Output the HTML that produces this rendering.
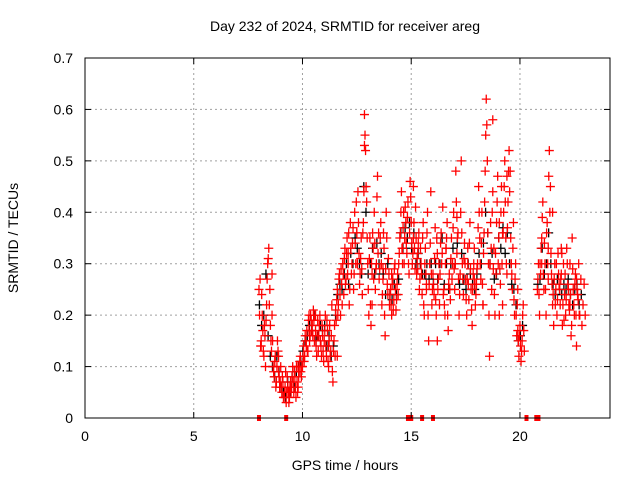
<!DOCTYPE html>
<html><head><meta charset="utf-8"><style>
body{margin:0;background:#fff;}
svg text{font-family:"Liberation Sans",sans-serif;font-size:14px;fill:#000;}
</style></head><body>
<svg id="chart" width="640" height="480" xmlns="http://www.w3.org/2000/svg">
<rect width="640" height="480" fill="#fff"/>
<g id="grid"></g>
<g id="blackpts"></g>
<g id="redpts"></g>
<g id="axes"></g>
<text x="345" y="31" text-anchor="middle">Day 232 of 2024, SRMTID for receiver areg</text>
<text x="345" y="470" text-anchor="middle">GPS time / hours</text>
<text transform="translate(18,238) rotate(-90)" text-anchor="middle">SRMTID / TECUs</text>
</svg>
<script>
const xTicks=[0,5,10,15,20];
const yTicks=[0,0.1,0.2,0.3,0.4,0.5,0.6,0.7];
const yTickLabels=["0","0.1","0.2","0.3","0.4","0.5","0.6","0.7"];
const redSegStarts=[8.0,20.8,8.025,20.825];
const redSegA=[0.25,0.27,0.15,0.2,0.13,0.18,0.1,0.22,0.3,0.33,0.25,0.15,0.2,0.1,0.08,0.12,0.07,0.15,0.09,0.06,
0.1,0.05,0.07,0.04,0.06,0.03,0.08,0.05,0.04,0.07,0.06,0.1,0.05,0.08,0.04,0.07,0.1,0.09,0.12,0.08,
0.1,0.14,0.12,0.15,0.17,0.13,0.2,0.16,0.19,0.18,0.21,0.15,0.17,0.12,0.19,0.16,0.2,0.14,0.18,0.13,
0.15,0.2,0.12,0.17,0.1,0.18,0.13,0.22,0.07,0.15,0.12,0.19,0.25,0.22,0.28,0.2,0.26,0.3,0.24,0.33,
0.27,0.35,0.3,0.22,0.38,0.28,0.34,0.25,0.4,0.3,0.36,0.44,0.32,0.28,0.35,0.24,0.38,0.59,0.52,0.42,
0.3,0.2,0.35,0.18,0.28,0.33,0.4,0.25,0.3,0.47,0.36,0.29,0.38,0.22,0.27,0.33,0.16,0.4,0.26,0.31,
0.22,0.25,0.2,0.27,0.23,0.3,0.21,0.26,0.24,0.32,0.36,0.44,0.3,0.4,0.35,0.38,0.32,0.42,0.28,0.46,
0.38,0.3,0.35,0.33,0.41,0.28,0.32,0.36,0.27,0.3,0.24,0.38,0.2,0.33,0.26,0.4,0.15,0.3,0.44,0.22,
0.28,0.24,0.37,0.2,0.32,0.27,0.22,0.34,0.3,0.41,0.25,0.2,0.33,0.38,0.17,0.28,0.23,0.35,0.3,0.4,
0.25,0.48,0.32,0.36,0.2,0.28,0.5,0.3,0.24,0.34,0.27,0.2,0.3,0.23,0.38,0.25,0.18,0.28,0.33,0.22,
0.26,0.3,0.45,0.35,0.27,0.4,0.22,0.36,0.48,0.62,0.5,0.3,0.12,0.38,0.25,0.44,0.33,0.2,0.28,0.42,
0.3,0.38,0.26,0.45,0.22,0.4,0.5,0.35,0.28,0.42,0.52,0.48,0.3,0.25,0.38,0.2,0.3,0.16,0.25,0.12,
0.18,0.11,0.15,0.22,0.13];
const redSegB=[0.25,0.3,0.2,0.28,
0.35,0.42,0.25,0.3,0.2,0.38,0.33,0.52,0.45,0.28,0.22,0.18,0.3,0.25,0.2,0.32,0.26,0.22,0.28,0.18,
0.3,0.24,0.2,0.33,0.26,0.22,0.3,0.16,0.35,0.25,0.2,0.28,0.14,0.24,0.3,0.2,0.27,0.18,0.22,0.26,0.2];
const redSegC=[0.2,0.14,0.24,0.17,0.12,0.16,0.19,0.27,0.31,0.22,0.18,0.13,0.15,0.09,0.11,0.06,0.1,0.13,0.08,0.07,
0.06,0.08,0.04,0.05,0.09,0.05,0.06,0.03,0.06,0.05,0.08,0.07,0.09,0.06,0.1,0.05,0.08,0.11,0.09,0.1,
0.12,0.11,0.16,0.14,0.13,0.19,0.15,0.2,0.17,0.16,0.19,0.2,0.14,0.16,0.13,0.18,0.15,0.12,0.16,0.11,
0.17,0.14,0.19,0.11,0.15,0.12,0.16,0.09,0.13,0.18,0.21,0.23,0.2,0.27,0.24,0.29,0.22,0.28,0.31,0.26,
0.32,0.28,0.36,0.25,0.33,0.3,0.37,0.28,0.34,0.42,0.3,0.38,0.26,0.31,0.29,0.36,0.44,0.55,0.45,0.35,
0.25,0.31,0.22,0.3,0.36,0.27,0.34,0.29,0.43,0.32,0.27,0.35,0.3,0.24,0.36,0.2,0.29,0.35,0.24,0.28,
0.24,0.22,0.26,0.21,0.29,0.25,0.23,0.28,0.3,0.35,0.4,0.33,0.37,0.3,0.41,0.34,0.39,0.3,0.36,0.43,
0.34,0.32,0.38,0.29,0.35,0.31,0.34,0.25,0.33,0.28,0.35,0.22,0.3,0.28,0.36,0.2,0.26,0.34,0.28,0.25,
0.26,0.31,0.23,0.35,0.25,0.3,0.28,0.36,0.32,0.24,0.22,0.3,0.35,0.2,0.26,0.25,0.31,0.27,0.37,0.29,
0.3,0.42,0.35,0.27,0.24,0.4,0.36,0.27,0.31,0.3,0.23,0.27,0.26,0.34,0.29,0.21,0.25,0.3,0.26,0.24,
0.29,0.37,0.4,0.3,0.34,0.26,0.32,0.42,0.55,0.57,0.36,0.2,0.3,0.33,0.4,0.29,0.24,0.32,0.38,0.47,
0.35,0.29,0.4,0.3,0.36,0.45,0.42,0.3,0.37,0.48,0.44,0.35,0.28,0.33,0.23,0.27,0.2,0.22,0.15,0.16,
0.14,0.13,0.2,0.17];
const redSegD=[0.27,0.24,0.3,0.33,0.39,0.28,0.34,0.25,0.36,0.3,0.47,0.4,0.32,0.26,0.24,0.27,0.22,0.3,0.23,0.28,
0.25,0.27,0.32,0.22,0.19,0.28,0.23,0.3,0.25,0.21,0.24,0.18,0.29,0.22,0.26,0.2,0.25,0.23,0.2];
const redExtraTimes=[8.1,8.6,8.9,9.4,9.8,10.3,10.6,11.2,11.6,12.1,12.5,12.85,13.2,13.7,14.1,14.6,15.1,15.3,15.7,16.2,16.6,17.1,17.6,17.9,18.3,18.75,19.05,19.2,19.4,19.6,19.9,21.0,21.3,21.5,21.9,22.3,22.6];
const redExtraVals=[0.14,0.28,0.12,0.05,0.06,0.17,0.2,0.14,0.12,0.32,0.36,0.53,0.22,0.29,0.28,0.33,0.45,0.29,0.25,0.15,0.33,0.39,0.33,0.27,0.22,0.58,0.2,0.36,0.47,0.3,0.17,0.3,0.27,0.4,0.33,0.22,0.27];
const blackSegStarts=[8.02,20.82];
const blackSegA=[0.22,0.18,0.2,0.28,0.16,0.12,0.1,0.08,0.12,0.09,
0.06,0.05,0.04,0.07,0.05,0.08,0.06,0.09,0.1,0.11,
0.13,0.15,0.16,0.18,0.17,0.2,0.15,0.16,0.18,0.17,
0.18,0.14,0.16,0.12,0.14,0.2,0.24,0.26,0.25,0.28,
0.3,0.26,0.32,0.3,0.35,0.33,0.3,0.28,0.45,0.4,
0.28,0.3,0.33,0.28,0.34,0.3,0.32,0.28,0.24,0.3,
0.24,0.23,0.26,0.24,0.27,0.36,0.33,0.37,0.35,0.38,
0.33,0.36,0.3,0.32,0.3,0.28,0.28,0.3,0.27,0.3,
0.26,0.3,0.27,0.3,0.35,0.26,0.3,0.25,0.3,0.33,
0.3,0.34,0.26,0.32,0.27,0.25,0.3,0.28,0.26,0.25,
0.28,0.32,0.3,0.34,0.4,0.36,0.3,0.32,0.27,0.28,
0.35,0.33,0.37,0.32,0.36,0.3,0.26,0.25,0.22,0.15,
0.16,0.18];
const blackSegB=[0.26,0.27,
0.33,0.28,0.3,0.36,0.3,0.26,0.24,0.27,0.25,0.24,
0.26,0.25,0.27,0.24,0.22,0.25,0.26,0.22,0.24];
const zeroTimes=[8.0,9.25,14.85,15.0,15.5,16.0,20.3,20.75,20.85];

const L=85,R=610,T=58,B=418,XMAX=24.14,YMAX=0.7;
const xs=v=>L+(R-L)*v/XMAX;
const ys=v=>B-(B-T)*v/YMAX;
const NS="http://www.w3.org/2000/svg";
function mk(tag,attrs,parent){const e=document.createElementNS(NS,tag);for(const k in attrs)e.setAttribute(k,attrs[k]);parent.appendChild(e);return e;}
const grid=document.getElementById('grid'),axes=document.getElementById('axes');
xTicks.forEach(t=>{
  if(t>0){const g=mk('line',{x1:xs(t),x2:xs(t),y1:T,y2:B,stroke:'#a0a0a0','stroke-dasharray':'2,3'},grid);
  
  }
  mk('line',{x1:xs(t),x2:xs(t),y1:B,y2:B-6,stroke:'#000'},axes);
  mk('line',{x1:xs(t),x2:xs(t),y1:T,y2:T+6,stroke:'#000'},axes);
  const tx=mk('text',{x:xs(t),y:B+23,'text-anchor':'middle'},axes);tx.textContent=t;
  
  
});
yTicks.forEach((t,i)=>{
  if(t>0&&t<0.7){const g=mk('line',{x1:L,x2:R,y1:ys(t),y2:ys(t),stroke:'#a0a0a0','stroke-dasharray':'2,3'},grid);
  
  }
  mk('line',{x1:L,x2:L+6,y1:ys(t),y2:ys(t),stroke:'#000'},axes);
  mk('line',{x1:R,x2:R-6,y1:ys(t),y2:ys(t),stroke:'#000'},axes);
  const tx=mk('text',{x:L-12,y:ys(t)+5,'text-anchor':'end'},axes);tx.textContent=yTickLabels[i];
  
  
});
const frame=mk('rect',{x:L,y:T,width:R-L,height:B-T,fill:'none',stroke:'#000'},axes);


function plus(t,v,color,parent,name){
  const x=xs(t),y=ys(v);
  const p=mk('path',{d:`M${x-4.5},${y}h9M${x},${y-4.5}v9`,stroke:color,'stroke-width':1.3,fill:'none'},parent);
  
  
}
const bg=document.getElementById('blackpts'),rg=document.getElementById('redpts');
blackSegA.forEach((v,i)=>plus(blackSegStarts[0]+i*0.1,v,'#000',bg,'black-point'));
blackSegB.forEach((v,i)=>plus(blackSegStarts[1]+i*0.1,v,'#000',bg,'black-point'));
redSegA.forEach((v,i)=>plus(redSegStarts[0]+i*0.05,v,'#f00',rg,'red-point'));
redSegB.forEach((v,i)=>plus(redSegStarts[1]+i*0.05,v,'#f00',rg,'red-point'));
redSegC.forEach((v,i)=>plus(redSegStarts[2]+i*0.05,v,'#f00',rg,'red-point'));
redSegD.forEach((v,i)=>plus(redSegStarts[3]+i*0.05,v,'#f00',rg,'red-point'));
redExtraTimes.forEach((t,i)=>plus(t,redExtraVals[i],'#f00',rg,'red-point'));
zeroTimes.forEach(t=>{
  const r=mk('rect',{x:xs(t)-2,y:B-3,width:4,height:6,fill:'#f00'},rg);
  
  
});
</script>
</body></html>
